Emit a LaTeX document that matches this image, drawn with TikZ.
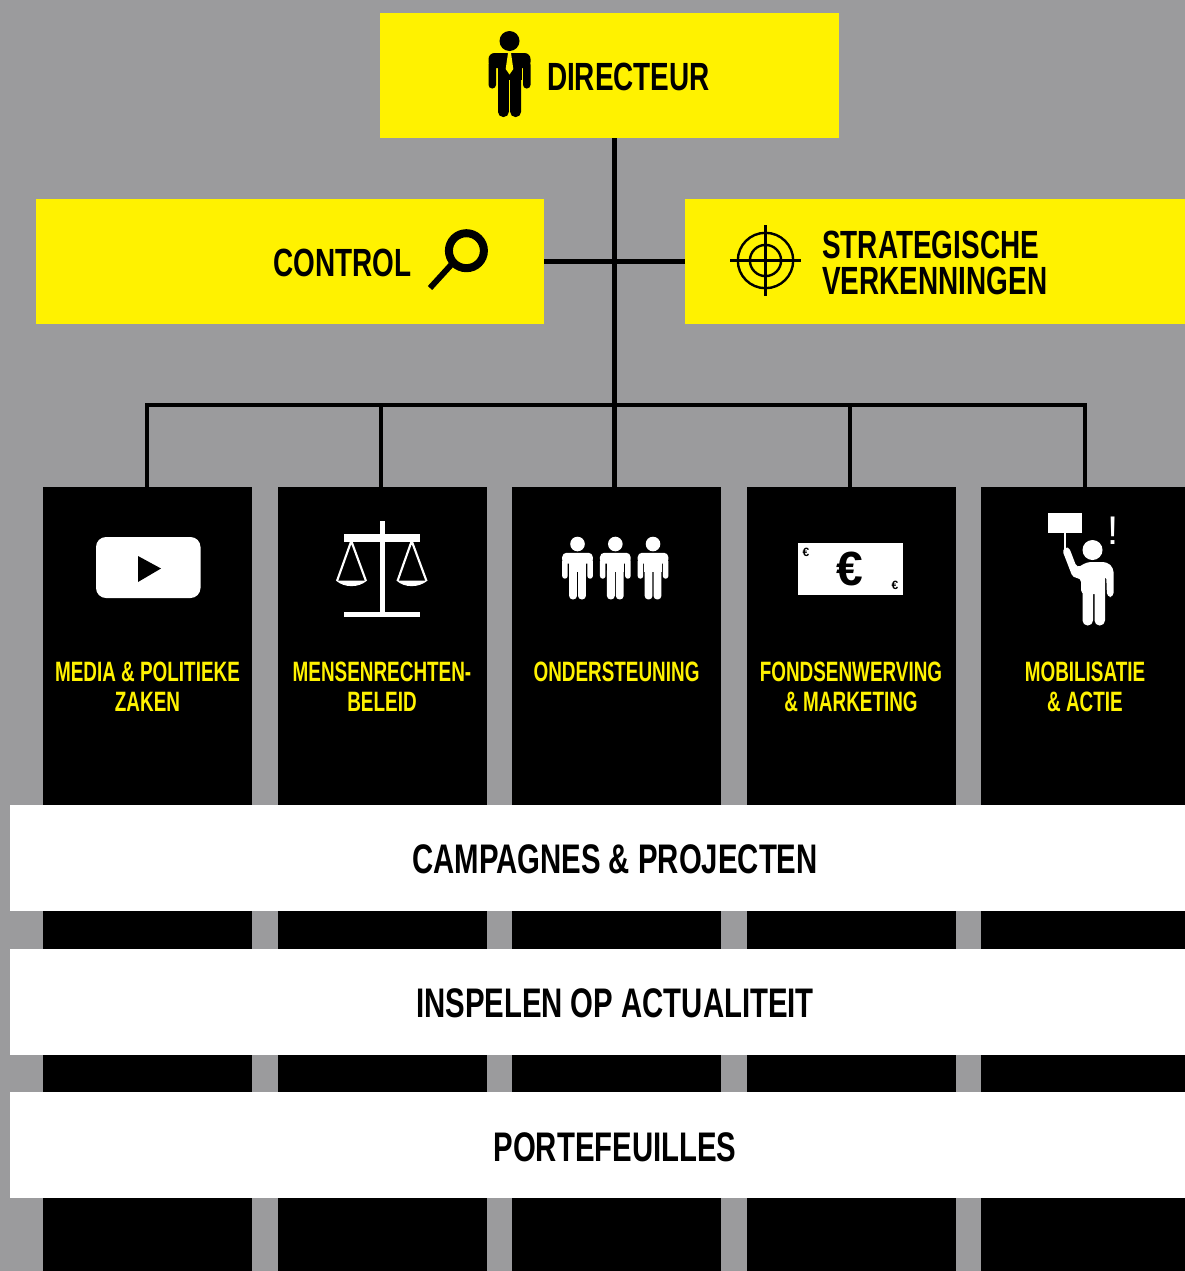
\documentclass[tikz,border=0pt]{standalone}
\usepackage{fontspec}
\setmainfont{Liberation Sans}
\newfontfamily\biglab[FakeStretch=0.71]{Liberation Sans Bold}
\newfontfamily\smalllab[FakeStretch=0.675]{Liberation Sans Bold}
\newfontfamily\plainbold{Liberation Sans Bold}
\definecolor{amyellow}{HTML}{FFF200}
\definecolor{amgray}{HTML}{9B9B9D}
\tikzset{
  px/.style={x=0.75pt,y=-0.75pt},
  yellowbox/.style={fill=amyellow,draw=none,inner sep=0pt,minimum height=93.75pt},
  column/.style={fill=black,draw=none,inner sep=0pt,minimum width=156.75pt,minimum height=588pt,anchor=north west},
  bar/.style={fill=white,draw=none,inner sep=0pt,minimum width=881.25pt,minimum height=79.5pt,anchor=north west},
  biglabel/.style={inner sep=0pt,text=black,font=\biglab\fontsize{29.5}{27.5}\selectfont,anchor=base},
  collabel/.style={inner sep=0pt,text=amyellow,font=\smalllab\fontsize{21}{22.5}\selectfont,align=center,anchor=center},
  connector/.style={draw=black,line width=3.4pt},
  pics/person/.style={code={
    \begin{scope}[scale=#1]
      \fill (0,0) circle (10);
      \fill[rounded corners=#1*4.5pt] (-21,27) -- (-21,12) -- (21,12) -- (21,27) -- cycle;
      \fill[rounded corners=#1*2.7pt] (-21,20) rectangle (-13.5,47.5);
      \fill[rounded corners=#1*2.7pt] (13.5,20) rectangle (21,47.5);
      \fill (-12,14) rectangle (12,39);
      \fill (-11.5,36) [rounded corners=#1*3.8pt] -- (-11.5,76) -- (-0.7,76) [sharp corners] -- (-0.7,36) -- cycle;
      \fill (11.5,36) [rounded corners=#1*3.8pt] -- (11.5,76) -- (0.7,76) [sharp corners] -- (0.7,36) -- cycle;
    \end{scope}
  }},
}
\begin{document}
\begin{tikzpicture}[px]
\useasboundingbox (0,0) rectangle (1185,1271);
\fill[amgray] (0,0) rectangle (1185,1271);

% boxes
\node[yellowbox,minimum width=344.25pt] (dir) at (609.5,75.5) {};
\node[yellowbox,minimum width=381pt] (ctrl) at (290,261.5) {};
\node[yellowbox,minimum width=375pt] (strat) at (935,261.5) {};
\node[column] (c1) at (43,487) {};
\node[column] (c2) at (278,487) {};
\node[column] (c3) at (512,487) {};
\node[column] (c4) at (747,487) {};
\node[column,minimum width=153pt] (c5) at (981,487) {};

% connectors
\coordinate (hub) at (614.5,405);
\coordinate (drop1) at (147,405);
\coordinate (drop2) at (381,405);
\coordinate (drop4) at (850,405);
\coordinate (drop5) at (1085,405);
\draw[connector] (dir.south -| hub) -- (c3.north -| hub);
\draw[connector] (ctrl.east) -- (strat.west);
\draw[connector,line join=miter] (c1.north -| drop1) -- (drop1) -- (drop5) -- (c5.north -| drop5);
\draw[connector] (drop2) -- (c2.north -| drop2);
\draw[connector] (drop4) -- (c4.north -| drop4);

% top labels
\node[biglabel] (dirl) at (628.5,90) {DIRECTEUR};
\node[biglabel] (ctrll) at (342.7,276) {CONTROL};
\node[biglabel,anchor=base west] (stl1) at (822,258) {STRATEGISCHE};
\node[biglabel,anchor=base west] (stl2) at (822,294) {VERKENNINGEN};

% director icon
\pic at (509.5,41) {person=1};
\fill[amyellow] (508,53) -- (511,53) -- (513.3,69) -- (509.5,74.5) -- (505.7,69) -- cycle;

% magnifier
\draw[black,line width=6pt] (466.4,250.7) circle (17.5);
\draw[black,line width=4.4pt] (451,265) -- (430,288);

% target
\begin{scope}[black,line width=1.8pt]
  \draw (765.5,260.5) circle (27.7);
  \draw (765.5,260.5) circle (15.6);
  \draw (730,260.5) -- (801,260.5);
  \draw (765.5,225) -- (765.5,296);
\end{scope}

% column labels
\node[collabel] (l1) at (147.5,686.5) {MEDIA \& POLITIEKE\\ZAKEN};
\node[collabel] (l2) at (382,686.5) {MENSENRECHTEN-\\BELEID};
\node[collabel] (l3) at (616.5,671.5) {ONDERSTEUNING};
\node[collabel] (l4) at (851,686.5) {FONDSENWERVING\\\& MARKETING};
\node[collabel] (l5) at (1085,686.5) {MOBILISATIE\\\& ACTIE};

% video icon
\fill[white,rounded corners=7.5pt] (96,537) rectangle (200.5,598);
\fill[black] (138,556) -- (161,568.5) -- (138,582) -- cycle;

% scales
\begin{scope}[white]
  \fill (379.5,520.5) rectangle (384.5,617);
  \fill (344,534) rectangle (420,542);
  \fill (344,611.5) rectangle (420,617.3);
  \draw[line width=1.6pt,line join=round] (337,581) -- (351.3,541) -- (366,581);
  \draw[line width=1.6pt,line join=round] (397.5,581) -- (411.7,541) -- (426.5,581);
  \fill (336,580.5) .. controls (344,588) and (359,588) .. (367,580.5) -- cycle;
  \fill (396.5,580.5) .. controls (404,588) and (419,588) .. (427.5,580.5) -- cycle;
\end{scope}

% people
\begin{scope}[white]
  \pic at (577.5,544) {person=0.73};
  \pic at (615.3,544) {person=0.73};
  \pic at (653,544) {person=0.73};
\end{scope}

% banknote
\node[fill=white,inner sep=0pt,minimum width=78.75pt,minimum height=39pt] (note) at (850.5,569) {};
\node[inner sep=0pt,text=black,font=\plainbold\fontsize{36}{36}\selectfont] (eurobig) at (850,569) {€};
\node[inner sep=0pt,text=black,font=\plainbold\fontsize{9}{9}\selectfont] (eurotl) at (806,552) {€};
\node[inner sep=0pt,text=black,font=\plainbold\fontsize{9}{9}\selectfont] (eurobr) at (895,585.5) {€};

% protester
\begin{scope}[white]
  \fill (1048,513) rectangle (1082,533);
  \fill (1063.5,533) rectangle (1065.5,549);
  \fill (1092.5,550) circle (10);
  \fill[rounded corners=3pt] (1062,549.5) -- (1068.5,546) -- (1077,568) -- (1087,562) -- (1107,562) -- (1113.5,568) -- (1113.5,597) -- (1107,597) -- (1106.2,575) -- (1105,575) -- (1105,594) -- (1081,594) -- (1081,578) -- (1073,578) -- cycle;
  \fill (1082.5,590) [rounded corners=3.8pt] -- (1082.5,625.5) -- (1093,625.5) [sharp corners] -- (1093,590) -- cycle;
  \fill (1105,590) [rounded corners=3.8pt] -- (1105,625.5) -- (1094.5,625.5) [sharp corners] -- (1094.5,590) -- cycle;
\end{scope}
\node[inner sep=0pt,text=white,font=\fontsize{30}{30}\selectfont,anchor=base] (bang) at (1113,544) {!};

% bars
\node[bar] (b1) at (10,805) {};
\node[bar] (b2) at (10,949) {};
\node[bar] (b3) at (10,1092) {};
\node[biglabel,font=\biglab\fontsize{31}{31}\selectfont] (bl1) at (615,873) {CAMPAGNES \& PROJECTEN};
\node[biglabel,font=\biglab\fontsize{31}{31}\selectfont] (bl2) at (615,1017) {INSPELEN OP ACTUALITEIT};
\node[biglabel,font=\biglab\fontsize{31}{31}\selectfont] (bl3) at (615,1161) {PORTEFEUILLES};
\end{tikzpicture}
\end{document}
